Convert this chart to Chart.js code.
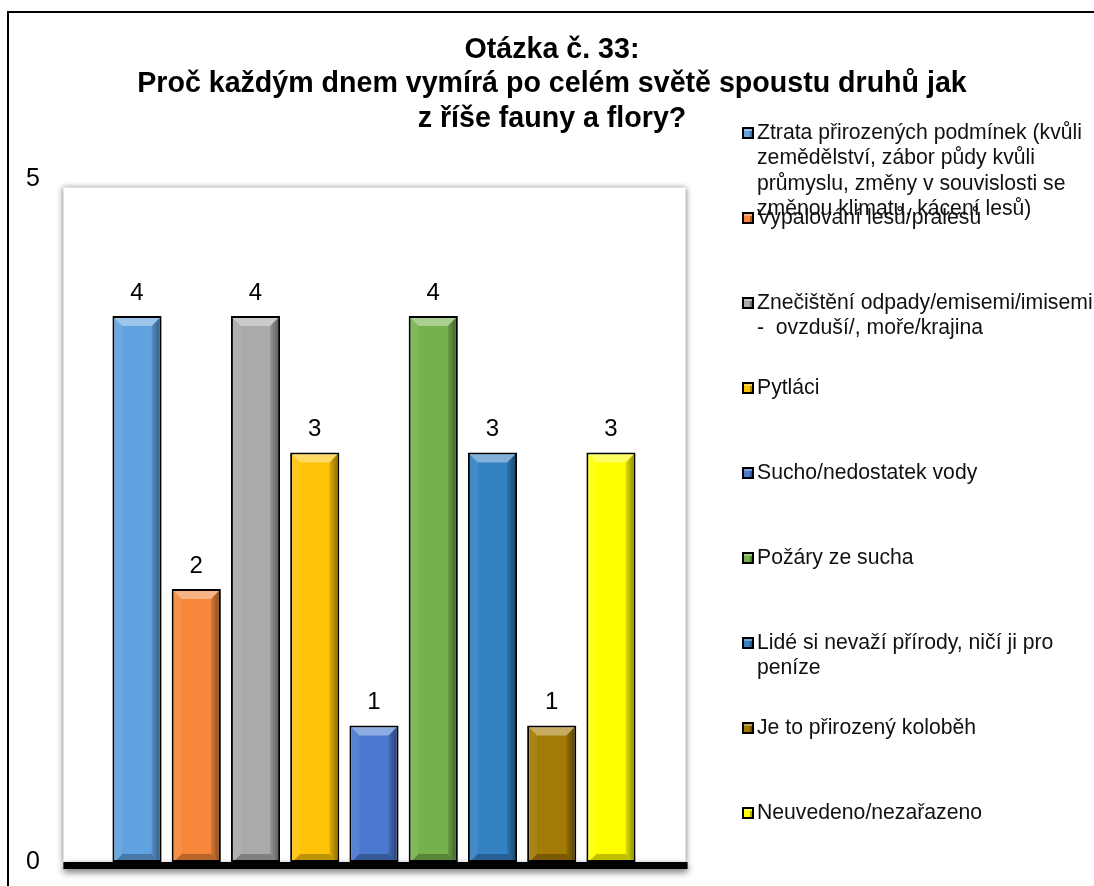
<!DOCTYPE html>
<html lang="cs">
<head>
    <meta charset="UTF-8">
    <title>Otázka č. 33</title>
    <script src="https://cdn.jsdelivr.net/npm/chart.js"></script>
    <style>
        html, body {
            margin: 0;
            padding: 0;
            background-color: #ffffff;
            overflow: hidden;
        }

        .chart-container {
            width: 1094px;
            height: 886px;
        }

        canvas {
            display: block;
        }
    </style>
</head>
<body>

    <div class="chart-container">
        <canvas id="otazkaChart" width="1094" height="886"></canvas>
    </div>

    <script>
        const titleLines = [
            'Otázka č. 33:',
            'Proč každým dnem vymírá po celém světě spoustu druhů jak',
            'z říše fauny a flory?'
        ];
        const categories = [
            ['Ztrata přirozených podmínek (kvůli', 'zemědělství, zábor půdy kvůli', 'průmyslu, změny v souvislosti se', 'změnou klimatu, kácení lesů)'],
            ['Vypalování lesů/pralesů'],
            ['Znečištění odpady/emisemi/imisemi', '-  ovzduší/, moře/krajina'],
            ['Pytláci'],
            ['Sucho/nedostatek vody'],
            ['Požáry ze sucha'],
            ['Lidé si nevaží přírody, ničí ji pro', 'peníze'],
            ['Je to přirozený koloběh'],
            ['Neuvedeno/nezařazeno']
        ];
        const counts = [4, 2, 4, 3, 1, 4, 3, 1, 3];
        const barColors = ['#60a2e0', '#f6873a', '#aaaaaa', '#ffc408', '#4a79cf', '#76b24c', '#3481c4', '#a37a04', '#ffff00'];
        const yTicks = [0, 5];

        const FONT = "'Liberation Sans', Arial, sans-serif";

        // white page + the frame line on the left and top
        const framePlugin = {
            id: 'frame',
            beforeDraw(chart) {
                const c = chart.ctx;
                c.save();
                c.fillStyle = '#ffffff';
                c.fillRect(0, 0, chart.width, chart.height);
                c.strokeStyle = '#000000';
                c.lineWidth = 2;
                c.beginPath();
                c.moveTo(8, chart.height);
                c.lineTo(8, 12);
                c.lineTo(chart.width, 12);
                c.stroke();
                c.restore();
            }
        };

        // back wall with soft shadow and the black floor
        const wallPlugin = {
            id: 'wall',
            beforeDatasetsDraw(chart) {
                const c = chart.ctx;
                const a = chart.chartArea;
                const left = a.left - 44;
                const right = a.right + 45;
                c.save();
                c.shadowColor = 'rgba(0,0,0,0.55)';
                c.shadowBlur = 6;
                c.fillStyle = '#ffffff';
                c.fillRect(left, a.top + 8, right - left, a.bottom - a.top - 8);
                c.shadowColor = 'rgba(0,0,0,0.6)';
                c.shadowBlur = 7;
                c.shadowOffsetY = 3;
                c.fillStyle = '#000000';
                c.fillRect(left, a.bottom, right - left + 2, 7);
                c.restore();
            }
        };

        // bevel facets on every bar and value labels above them
        const bevelPlugin = {
            id: 'bevel',
            afterDatasetsDraw(chart) {
                const c = chart.ctx;
                const meta = chart.getDatasetMeta(0);
                c.save();
                meta.data.forEach((bar, i) => {
                    const l = bar.x - bar.width / 2 + 2;
                    const r = bar.x + bar.width / 2 - 2;
                    const t = bar.y + 2;
                    const b = bar.base;
                    const s = 8;

                    const poly = (pts, fill) => {
                        c.beginPath();
                        c.moveTo(pts[0][0], pts[0][1]);
                        pts.slice(1).forEach(p => c.lineTo(p[0], p[1]));
                        c.closePath();
                        c.fillStyle = fill;
                        c.fill();
                    };

                    poly([[l, t], [r, t], [r - s, t + s], [l + s, t + s]], 'rgba(255,255,255,0.38)');
                    poly([[l, t], [l + s, t + s], [l + s, b - s], [l, b]], 'rgba(255,255,255,0.08)');
                    const g = c.createLinearGradient(r - s - 3, 0, r, 0);
                    g.addColorStop(0, 'rgba(0,0,0,0)');
                    g.addColorStop(1, 'rgba(0,0,0,0.42)');
                    poly([[r, t], [r - s, t + s], [r - s, b - s], [r, b]], g);
                    poly([[l, b], [l + s, b - s], [r - s, b - s], [r, b]], 'rgba(0,0,0,0.25)');

                    c.fillStyle = '#000000';
                    c.font = '24px ' + FONT;
                    c.textAlign = 'center';
                    c.textBaseline = 'middle';
                    c.fillText(String(counts[i]), bar.x, bar.y - 23);
                });
                c.restore();
            }
        };

        // title and the legend on the right side
        const textPlugin = {
            id: 'texts',
            afterDraw(chart) {
                const c = chart.ctx;
                c.save();
                c.fillStyle = '#000000';
                c.textAlign = 'center';
                c.textBaseline = 'middle';
                c.font = 'bold 28.6px ' + FONT;
                titleLines.forEach((line, i) => c.fillText(line, 552, 50 + i * 34.5));

                const boxX = 742;
                const textX = 757;
                c.textAlign = 'left';
                c.font = '21.2px ' + FONT;
                categories.forEach((lines, i) => {
                    const y = 133 + i * 85;
                    c.fillStyle = '#000000';
                    c.fillRect(boxX, y - 6, 12, 12);
                    c.fillStyle = barColors[i];
                    c.fillRect(boxX + 2, y - 4, 8, 8);
                    c.fillStyle = 'rgba(255,255,255,0.3)';
                    c.fillRect(boxX + 2, y - 4, 8, 2);
                    c.fillStyle = 'rgba(0,0,0,0.3)';
                    c.fillRect(boxX + 8, y - 2, 2, 6);
                    c.fillStyle = '#111111';
                    lines.forEach((line, k) => c.fillText(line, textX, y + k * 25.5));
                });
                c.restore();
            }
        };

        const ctx = document.getElementById('otazkaChart').getContext('2d');
        const otazkaChart = new Chart(ctx, {
            type: 'bar',
            data: {
                labels: categories.map(lines => lines.join(' ')),
                datasets: [{
                    data: counts,
                    backgroundColor: barColors,
                    borderColor: '#000000',
                    borderWidth: 2,
                    borderSkipped: false,
                    barPercentage: 0.83,
                    categoryPercentage: 1
                }]
            },
            options: {
                responsive: false,
                animation: false,
                devicePixelRatio: 1,
                layout: {
                    padding: { top: 179.5, bottom: 24, left: 26, right: 453.4 }
                },
                scales: {
                    x: {
                        display: false,
                        afterFit: scale => {
                            scale.height = 0;
                        }
                    },
                    y: {
                        min: 0,
                        max: 5,
                        afterBuildTicks: scale => {
                            scale.ticks = yTicks.map(v => ({ value: v }));
                        },
                        afterFit: scale => {
                            scale.width = 81.4;
                        },
                        grid: { display: false, drawTicks: false },
                        border: { display: false },
                        ticks: {
                            padding: 0,
                            crossAlign: 'far',
                            color: '#000000',
                            font: { size: 25, family: FONT }
                        }
                    }
                },
                plugins: {
                    legend: { display: false },
                    title: { display: false },
                    tooltip: { enabled: false }
                }
            },
            plugins: [framePlugin, wallPlugin, bevelPlugin, textPlugin]
        });
    </script>
</body>
</html>
